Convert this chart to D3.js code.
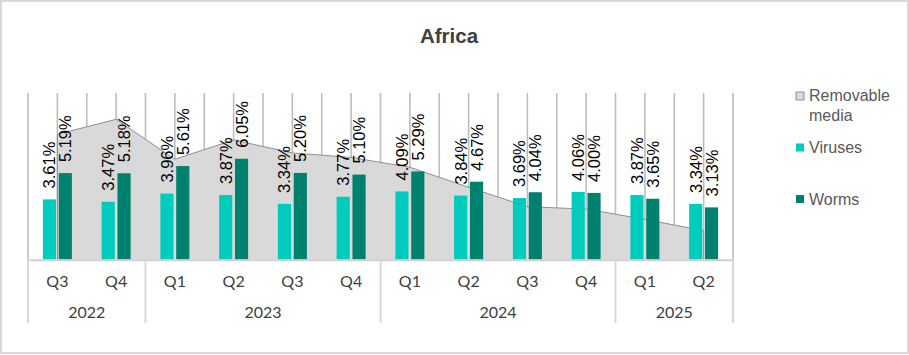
<!DOCTYPE html>
<html>
<head>
<meta charset="utf-8">
<script src="https://cdn.jsdelivr.net/npm/d3@7"></script>
<style>
  html, body { margin: 0; padding: 0; background: #fff; }
  svg { display: block; }
</style>
</head>
<body>
<svg id="chart" width="909" height="355"></svg>
<script>
const quarters = ["Q3","Q4","Q1","Q2","Q3","Q4","Q1","Q2","Q3","Q4","Q1","Q2"];
const years    = ["2022","2022","2023","2023","2023","2023","2024","2024","2024","2024","2025","2025"];
const viruses  = [3.61,3.47,3.96,3.87,3.34,3.77,4.09,3.84,3.69,4.06,3.87,3.34];
const worms    = [5.19,5.18,5.61,6.05,5.20,5.10,5.29,4.67,4.04,4.00,3.65,3.13];
const removable = [7.52,8.42,6.02,7.18,6.40,6.13,5.54,4.34,3.17,3.03,2.41,1.73];
const seriesNames = ["Removable media","Viruses","Worms"];
const title = "Africa";

const colors = { "Removable media": "#d9d9d9", "Viruses": "#00ccbe", "Worms": "#00806e" };

const svg = d3.select("#chart");
const W = 909, H = 355;
const plot = { left: 28, right: 733, top: 93, bottom: 259.5 };

// border
svg.append("rect").attr("x", 1).attr("y", 1).attr("width", W - 2).attr("height", H - 3)
  .attr("fill", "#fff").attr("stroke", "#d9d9d9").attr("stroke-width", 2);

// title
svg.append("text").attr("x", 449).attr("y", 42.5).attr("text-anchor", "middle")
  .attr("font-family", "Liberation Sans, Arial, sans-serif").attr("font-weight", "bold")
  .attr("font-size", 20.5).attr("fill", "#404040").text(title);

const idx = d3.range(quarters.length);
const x = d3.scaleBand().domain(idx).range([plot.left, plot.right]).padding(0);
const xc = i => x(i) + x.bandwidth() / 2;
const y = d3.scaleLinear().domain([0, 10]).range([plot.bottom, plot.top]);
const x1 = d3.scaleBand().domain(["Viruses", "Worms"]).range([-14.5, 14.5]).paddingInner(0.17);

// vertical gridlines at every half-category
const gridXs = [];
idx.forEach(i => { gridXs.push(x(i)); gridXs.push(xc(i)); });
gridXs.push(plot.right);
svg.append("g").selectAll("line").data(gridXs).join("line")
  .attr("x1", d => d).attr("x2", d => d)
  .attr("y1", plot.top).attr("y2", plot.bottom)
  .attr("stroke", "#bdbdbd").attr("stroke-width", 1.6);

// area
const area = d3.area().x(i => xc(i)).y0(y(0)).y1(i => y(removable[i]));
svg.append("path").datum(idx).attr("d", area)
  .attr("fill", colors["Removable media"]).attr("stroke", "none");
const areaOutline = d3.line().x(d => d[0]).y(d => d[1]);
const outlinePts = [[xc(0), y(0)]].concat(idx.map(i => [xc(i), y(removable[i])])).concat([[xc(idx.length - 1), y(0)]]);
svg.append("path").datum(outlinePts).attr("d", areaOutline)
  .attr("fill", "none").attr("stroke", "#8f8f8f").attr("stroke-width", 1);

// bars
const barData = [];
idx.forEach(i => {
  barData.push({ i, s: "Viruses", v: viruses[i] });
  barData.push({ i, s: "Worms", v: worms[i] });
});
svg.append("g").selectAll("rect").data(barData).join("rect")
  .attr("x", d => xc(d.i) + x1(d.s))
  .attr("width", x1.bandwidth())
  .attr("y", d => y(d.v))
  .attr("height", d => y(0) - y(d.v))
  .attr("fill", d => colors[d.s]);

// data labels
svg.append("g").selectAll("text").data(barData).join("text")
  .attr("transform", d => `translate(${xc(d.i) + x1(d.s) + x1.bandwidth() / 2},${y(d.v) - 11}) rotate(-90)`)
  .attr("dy", "0.36em")
  .attr("text-anchor", "start")
  .attr("font-family", "Liberation Sans, Arial, sans-serif")
  .attr("font-size", 16.5).attr("fill", "#000")
  .text(d => d.v.toFixed(2) + "%");

// category axis baseline
svg.append("line").attr("x1", plot.left - 1).attr("x2", plot.right + 1)
  .attr("y1", 260.2).attr("y2", 260.2).attr("stroke", "#d0d0d0").attr("stroke-width", 2);

// quarter labels
svg.append("g").selectAll("text").data(idx).join("text")
  .attr("x", i => xc(i)).attr("y", 287)
  .attr("text-anchor", "middle")
  .attr("font-family", "Lato, sans-serif").attr("font-size", 16)
  .attr("fill", "#404040").text(i => quarters[i]);

// year groups
const groups = [];
idx.forEach(i => {
  if (i === 0 || years[i] !== years[i - 1]) groups.push({ year: years[i], start: i, end: i });
  else groups[groups.length - 1].end = i;
});
const sepXs = groups.map(g => x(g.start)).concat([x(groups[groups.length - 1].end) + x.bandwidth()]);
svg.append("g").selectAll("line").data(sepXs).join("line")
  .attr("x1", d => d).attr("x2", d => d)
  .attr("y1", 260).attr("y2", 323)
  .attr("stroke", "#d9d9d9").attr("stroke-width", 2);
svg.append("g").selectAll("text").data(groups).join("text")
  .attr("x", g => (x(g.start) + x(g.end) + x.bandwidth()) / 2).attr("y", 318)
  .attr("text-anchor", "middle")
  .attr("font-family", "Lato, sans-serif").attr("font-size", 16)
  .attr("fill", "#404040").text(g => g.year);

// legend
const legend = svg.append("g").attr("font-family", "Liberation Sans, Arial, sans-serif")
  .attr("font-size", 16).attr("fill", "#595959");
const legItems = [
  { name: seriesNames[0], lines: ["Removable", "media"], sy: 92, ty: 101 },
  { name: seriesNames[1], lines: ["Viruses"], sy: 143.5, ty: 153 },
  { name: seriesNames[2], lines: ["Worms"], sy: 195, ty: 204.5 }
];
legItems.forEach(it => {
  legend.append("rect").attr("x", 796).attr("y", it.sy).attr("width", 8).attr("height", 8)
    .attr("fill", colors[it.name])
    .attr("stroke", it.name === "Removable media" ? "#8f8f8f" : "none").attr("stroke-width", 1);
  const t = legend.append("text").attr("x", 809).attr("y", it.ty);
  it.lines.forEach((l, k) => t.append("tspan").attr("x", 809).attr("dy", k === 0 ? 0 : 19.5).text(l));
});
</script>
</body>
</html>
